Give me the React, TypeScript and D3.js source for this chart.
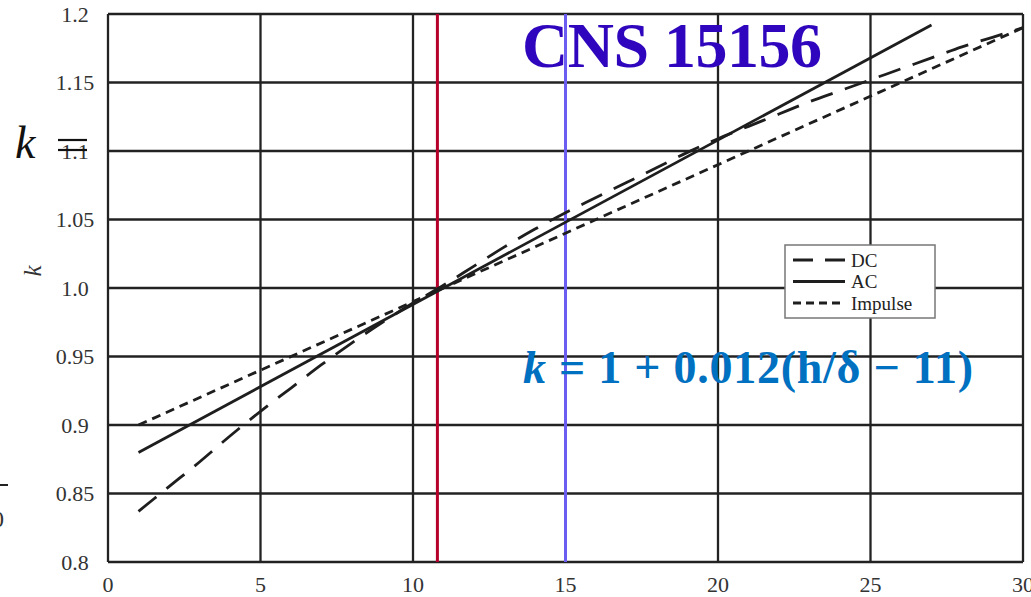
import * as d3 from "d3";
import React from "react";

// chart data
const xTicks = [0, 5, 10, 15, 20, 25, 30];
const yTicks = [0.8, 0.85, 0.9, 0.95, 1.0, 1.05, 1.1, 1.15, 1.2];
const yTickLabels = ["0.8", "0.85", "0.9", "0.95", "1.0", "1.05", "1.1", "1.15", "1.2"];

const dcH = [1, 2, 3, 4, 5, 6, 7, 8, 9, 10, 11, 12, 13, 14, 15, 16, 17, 18, 19, 20, 21, 22, 23, 24, 25, 26, 27, 28, 29, 30];
const dcK = [0.837, 0.855, 0.873, 0.892, 0.91, 0.927, 0.944, 0.96, 0.975, 0.989, 1.002, 1.016, 1.03, 1.043, 1.055, 1.066, 1.077, 1.088, 1.099, 1.109, 1.118, 1.127, 1.136, 1.144, 1.152, 1.16, 1.168, 1.176, 1.183, 1.19];
const acH = [1, 27];
const acK = [0.88, 1.192];
const impH = [1, 30];
const impK = [0.9, 1.19];

const redX = 10.8;
const blueX = 15;

const legendItems = ["DC", "AC", "Impulse"];
const legendDash = ["20 12", "", "8 5"];

const W = 1031,
  H = 597;

export default function App() {
  const x = d3.scaleLinear().domain([0, 30]).range([108, 1023]);
  const y = d3.scaleLinear().domain([0.8, 1.2]).range([562, 14]);

  const line = d3
    .line<[number, number]>()
    .x((d) => x(d[0]))
    .y((d) => y(d[1]));
  const dcPath = d3
    .line<[number, number]>()
    .x((d) => x(d[0]))
    .y((d) => y(d[1]))
    .curve(d3.curveMonotoneX)(dcH.map((h, i) => [h, dcK[i]]));
  const acPath = line(acH.map((h, i) => [h, acK[i]]));
  const impPath = line(impH.map((h, i) => [h, impK[i]]));

  const grid = "#222";
  const serif = "'Liberation Serif', 'Times New Roman', serif";

  return (
    <svg
      width={W}
      height={H}
      style={{ position: "absolute", left: 0, top: 0, background: "#fff" }}
    >
      {/* grid */}
      {xTicks.map((t) => (
        <line key={"gx" + t} x1={x(t)} x2={x(t)} y1={y(0.8)} y2={y(1.2)} stroke={grid} strokeWidth={2.3} />
      ))}
      {yTicks.map((t) => (
        <line key={"gy" + t} x1={x(0)} x2={x(30)} y1={y(t)} y2={y(t)} stroke={grid} strokeWidth={2.3} />
      ))}

      {/* tick labels */}
      {yTicks.map((t, i) => (
        <text
          key={"ly" + t}
          x={75}
          y={y(t)}
          dy="0.35em"
          textAnchor="middle"
          fontFamily={serif}
          fontSize={22}
          fill="#333"
        >
          {yTickLabels[i]}
        </text>
      ))}
      {xTicks.map((t) => (
        <text
          key={"lx" + t}
          x={x(t)}
          y={592}
          textAnchor="middle"
          fontFamily={serif}
          fontSize={22}
          fill="#333"
        >
          {t}
        </text>
      ))}

      {/* axis title */}
      <text
        transform={`translate(41,271) rotate(-90)`}
        textAnchor="middle"
        fontFamily={serif}
        fontStyle="italic"
        fontSize={25}
        fill="#333"
      >
        k
      </text>

      {/* marker lines */}
      <line x1={x(redX)} x2={x(redX)} y1={y(0.8)} y2={y(1.2)} stroke="#b5002c" strokeWidth={3} />
      <line x1={x(blueX)} x2={x(blueX)} y1={y(0.8)} y2={y(1.2)} stroke="#6b5cf2" strokeWidth={3} />

      {/* series */}
      <path d={dcPath || ""} fill="none" stroke="#1e1e1e" strokeWidth={2.8} strokeDasharray="23 13" />
      <path d={acPath || ""} fill="none" stroke="#1e1e1e" strokeWidth={2.8} />
      <path d={impPath || ""} fill="none" stroke="#1e1e1e" strokeWidth={2.8} strokeDasharray="9 6" />

      {/* legend */}
      <rect x={785} y={245} width={150} height={73} fill="#fff" stroke="#777" strokeWidth={1.5} />
      {legendItems.map((name, i) => (
        <g key={name} transform={`translate(0,${260 + i * 21.5})`}>
          <line
            x1={793}
            x2={845}
            y1={0}
            y2={0}
            stroke="#1e1e1e"
            strokeWidth={2.8}
            strokeDasharray={legendDash[i] || undefined}
          />
          <text x={851} y={0} dy="0.35em" fontFamily={serif} fontSize={19} fill="#222">
            {name}
          </text>
        </g>
      ))}

      {/* annotations */}
      <text x={522} y={67} fontFamily={serif} fontWeight="bold" fontSize={64} fill="#2f05bd" textLength={300}>
        CNS 15156
      </text>
      <text x={523} y={383} fontFamily={serif} fontWeight="bold" fontSize={46} fill="#0070c0" textLength={450}>
        <tspan fontStyle="italic">k</tspan> = 1 + 0.012(h/δ − 11)
      </text>

      <text x={15} y={158} fontFamily={serif} fontStyle="italic" fontSize={46} fill="#111">
        k
      </text>
      <line x1={58} x2={87} y1={140} y2={140} stroke="#111" strokeWidth={2.2} />
      <line x1={58} x2={87} y1={150} y2={150} stroke="#111" strokeWidth={2.2} />

      {/* cropped fragment on left edge */}
      <line x1={0} x2={8} y1={485} y2={485} stroke="#222" strokeWidth={2} />
      <text x={-8} y={527} fontFamily={serif} fontSize={24} fill="#333">
        0
      </text>
    </svg>
  );
}
